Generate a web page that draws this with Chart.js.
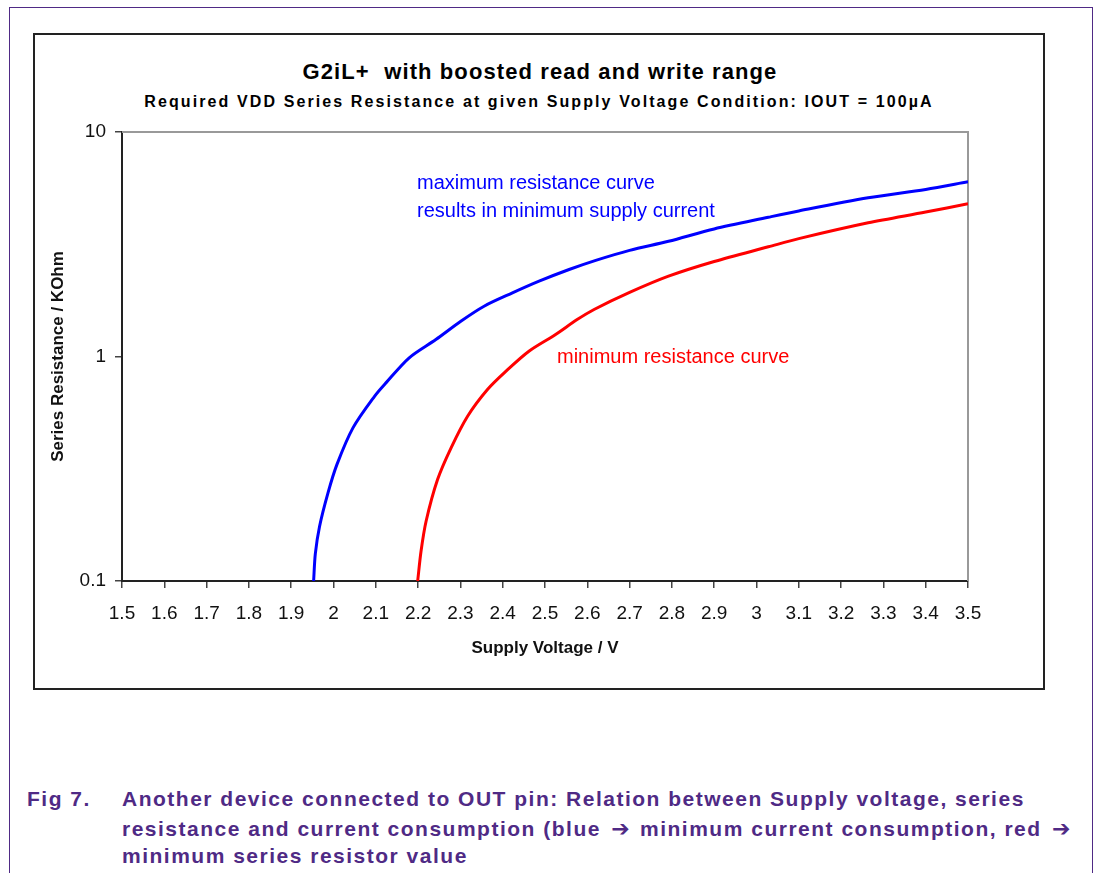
<!DOCTYPE html>
<html>
<head>
<meta charset="utf-8">
<script src="https://cdn.jsdelivr.net/npm/chart.js@4"></script>
<style>
  body { margin: 0; background: #fff; font-family: Arial, "Liberation Sans", sans-serif; }
  #page { position: relative; width: 1099px; height: 873px; overflow: hidden; }
  .frame { position: absolute; left: 9px; top: 7px; width: 1084px; height: 900px; border: 1px solid #4f2a85; box-sizing: border-box; }
  .box { position: absolute; left: 33px; top: 33px; width: 1012px; height: 657px; border: 2px solid #222; box-sizing: border-box; }
  .t { position: absolute; white-space: nowrap; }
  #title { left: 0; width: 1080px; top: 59px; text-align: center; font-weight: bold; font-size: 22px; letter-spacing: 1.1px; }
  #subtitle { left: 0; width: 1078px; top: 93px; text-align: center; font-weight: bold; font-size: 16px; letter-spacing: 2.1px; }
  .note { font-size: 20px; }
  .cap { color: #4f2a85; font-weight: bold; font-size: 21px; letter-spacing: 1.5px; }
  .arr { font-family: "DejaVu Sans", sans-serif; font-size: 22px; letter-spacing: 0; padding: 0 3px; }
  #wrap { position: absolute; left: 36px; top: 110px; width: 1000px; height: 570px; }
</style>
</head>
<body>
<div id="page">
  <div class="frame"></div>
  <div class="box"></div>
  <div class="t" id="title">G2iL+&nbsp; with boosted read and write range</div>
  <div class="t" id="subtitle">Required VDD Series Resistance at given Supply Voltage Condition: IOUT = 100µA</div>
  <div id="wrap"><canvas id="chart"></canvas></div>
  <div class="t note" style="left:417px; top:171px; color:#0000ff;">maximum resistance curve</div>
  <div class="t note" style="left:417px; top:199px; color:#0000ff;">results in minimum supply current</div>
  <div class="t note" style="left:557px; top:345px; color:#ff0000;">minimum resistance curve</div>
  <div class="t cap" style="left:27px; top:787px;">Fig 7.</div>
  <div class="t cap" style="left:122px; top:787px;">Another device connected to OUT pin: Relation between Supply voltage, series</div>
  <div class="t cap" style="left:122px; top:816px;">resistance and current consumption (blue <span class="arr">&#10132;</span> minimum current consumption, red <span class="arr">&#10132;</span></div>
  <div class="t cap" style="left:122px; top:844px;">minimum series resistor value</div>
</div>
<script>
// tick labels
const xTicks = [1.5, 1.6, 1.7, 1.8, 1.9, 2, 2.1, 2.2, 2.3, 2.4, 2.5, 2.6, 2.7, 2.8, 2.9, 3, 3.1, 3.2, 3.3, 3.4, 3.5];
const yTicks = [0.1, 1, 10];

// maximum resistance curve (blue)
const maxVolt = [1.953, 1.957, 1.967, 1.987, 2.008, 2.046, 2.097, 2.124, 2.179, 2.242, 2.301, 2.356, 2.423, 2.486, 2.557, 2.62, 2.7, 2.792, 2.9, 3.028, 3.1, 3.264, 3.4, 3.5];
const maxRes  = [0.1, 0.132, 0.175, 0.247, 0.33, 0.481, 0.665, 0.763, 0.987, 1.19, 1.436, 1.675, 1.92, 2.165, 2.44, 2.68, 2.97, 3.26, 3.7, 4.17, 4.45, 5.09, 5.55, 6.0];

// minimum resistance curve (red)
const minVolt = [2.199, 2.207, 2.219, 2.246, 2.278, 2.317, 2.364, 2.408, 2.462, 2.525, 2.576, 2.616, 2.7, 2.792, 2.9, 3.028, 3.1, 3.264, 3.4, 3.5];
const minRes  = [0.1, 0.136, 0.185, 0.283, 0.392, 0.542, 0.713, 0.861, 1.056, 1.253, 1.46, 1.62, 1.93, 2.28, 2.65, 3.08, 3.35, 3.94, 4.4, 4.79];

function pairs(xs, ys) {
    return xs.map((x, i) => ({ x: x, y: ys[i] }));
}

// gray frame on top and right of the plot area
const plotFrame = {
    id: 'plotFrame',
    beforeDatasetsDraw(chart) {
        const a = chart.chartArea;
        const ctx = chart.ctx;
        ctx.save();
        ctx.strokeStyle = '#999';
        ctx.lineWidth = 2;
        ctx.beginPath();
        ctx.moveTo(a.left, a.top);
        ctx.lineTo(a.right, a.top);
        ctx.lineTo(a.right, a.bottom);
        ctx.stroke();
        ctx.restore();
    }
};

const ctx = document.getElementById('chart').getContext('2d');
new Chart(ctx, {
    type: 'line',
    data: {
        datasets: [{
            label: 'maximum resistance',
            data: pairs(maxVolt, maxRes),
            borderColor: '#0000ff',
            borderWidth: 3,
            pointRadius: 0,
            tension: 0.3,
            fill: false
        }, {
            label: 'minimum resistance',
            data: pairs(minVolt, minRes),
            borderColor: '#ff0000',
            borderWidth: 3,
            pointRadius: 0,
            tension: 0.3,
            fill: false
        }]
    },
    options: {
        responsive: true,
        maintainAspectRatio: false,
        animation: false,
        events: [],
        layout: { padding: { left: 0, right: 68, top: 22, bottom: 0 } },
        plugins: { legend: { display: false }, tooltip: { enabled: false } },
        scales: {
            x: {
                type: 'linear',
                min: 1.5,
                max: 3.5,
                afterBuildTicks: s => { s.ticks = xTicks.map(v => ({ value: v })); },
                afterFit: s => { s.height = 99; },
                ticks: {
                    callback: v => String(Number(v.toFixed(1))),
                    color: '#111',
                    font: { family: 'Arial, "Liberation Sans"', size: 19 },
                    padding: 14,
                    maxRotation: 0,
                    autoSkip: false
                },
                grid: { drawOnChartArea: false, tickLength: 7, color: '#444', lineWidth: 1.5 },
                border: { color: '#222', width: 2 },
                title: {
                    display: true,
                    text: 'Supply Voltage / V',
                    color: '#111',
                    font: { family: 'Arial, "Liberation Sans"', size: 17, weight: 'bold' },
                    padding: { top: 0, bottom: 21 }
                }
            },
            y: {
                type: 'logarithmic',
                min: 0.1,
                max: 10,
                afterBuildTicks: s => { s.ticks = yTicks.map(v => ({ value: v })); },
                afterFit: s => { s.width = 86; },
                ticks: {
                    callback: v => String(v),
                    color: '#111',
                    font: { family: 'Arial, "Liberation Sans"', size: 19 },
                    padding: 9,
                    autoSkip: false
                },
                grid: { drawOnChartArea: false, tickLength: 7, color: '#444', lineWidth: 1.5 },
                border: { color: '#222', width: 2 },
                title: {
                    display: true,
                    text: 'Series Resistance / KOhm',
                    color: '#111',
                    font: { family: 'Arial, "Liberation Sans"', size: 17, weight: 'bold' },
                    padding: { top: 12, bottom: 0 }
                }
            }
        }
    },
    plugins: [plotFrame]
});
</script>
</body>
</html>
